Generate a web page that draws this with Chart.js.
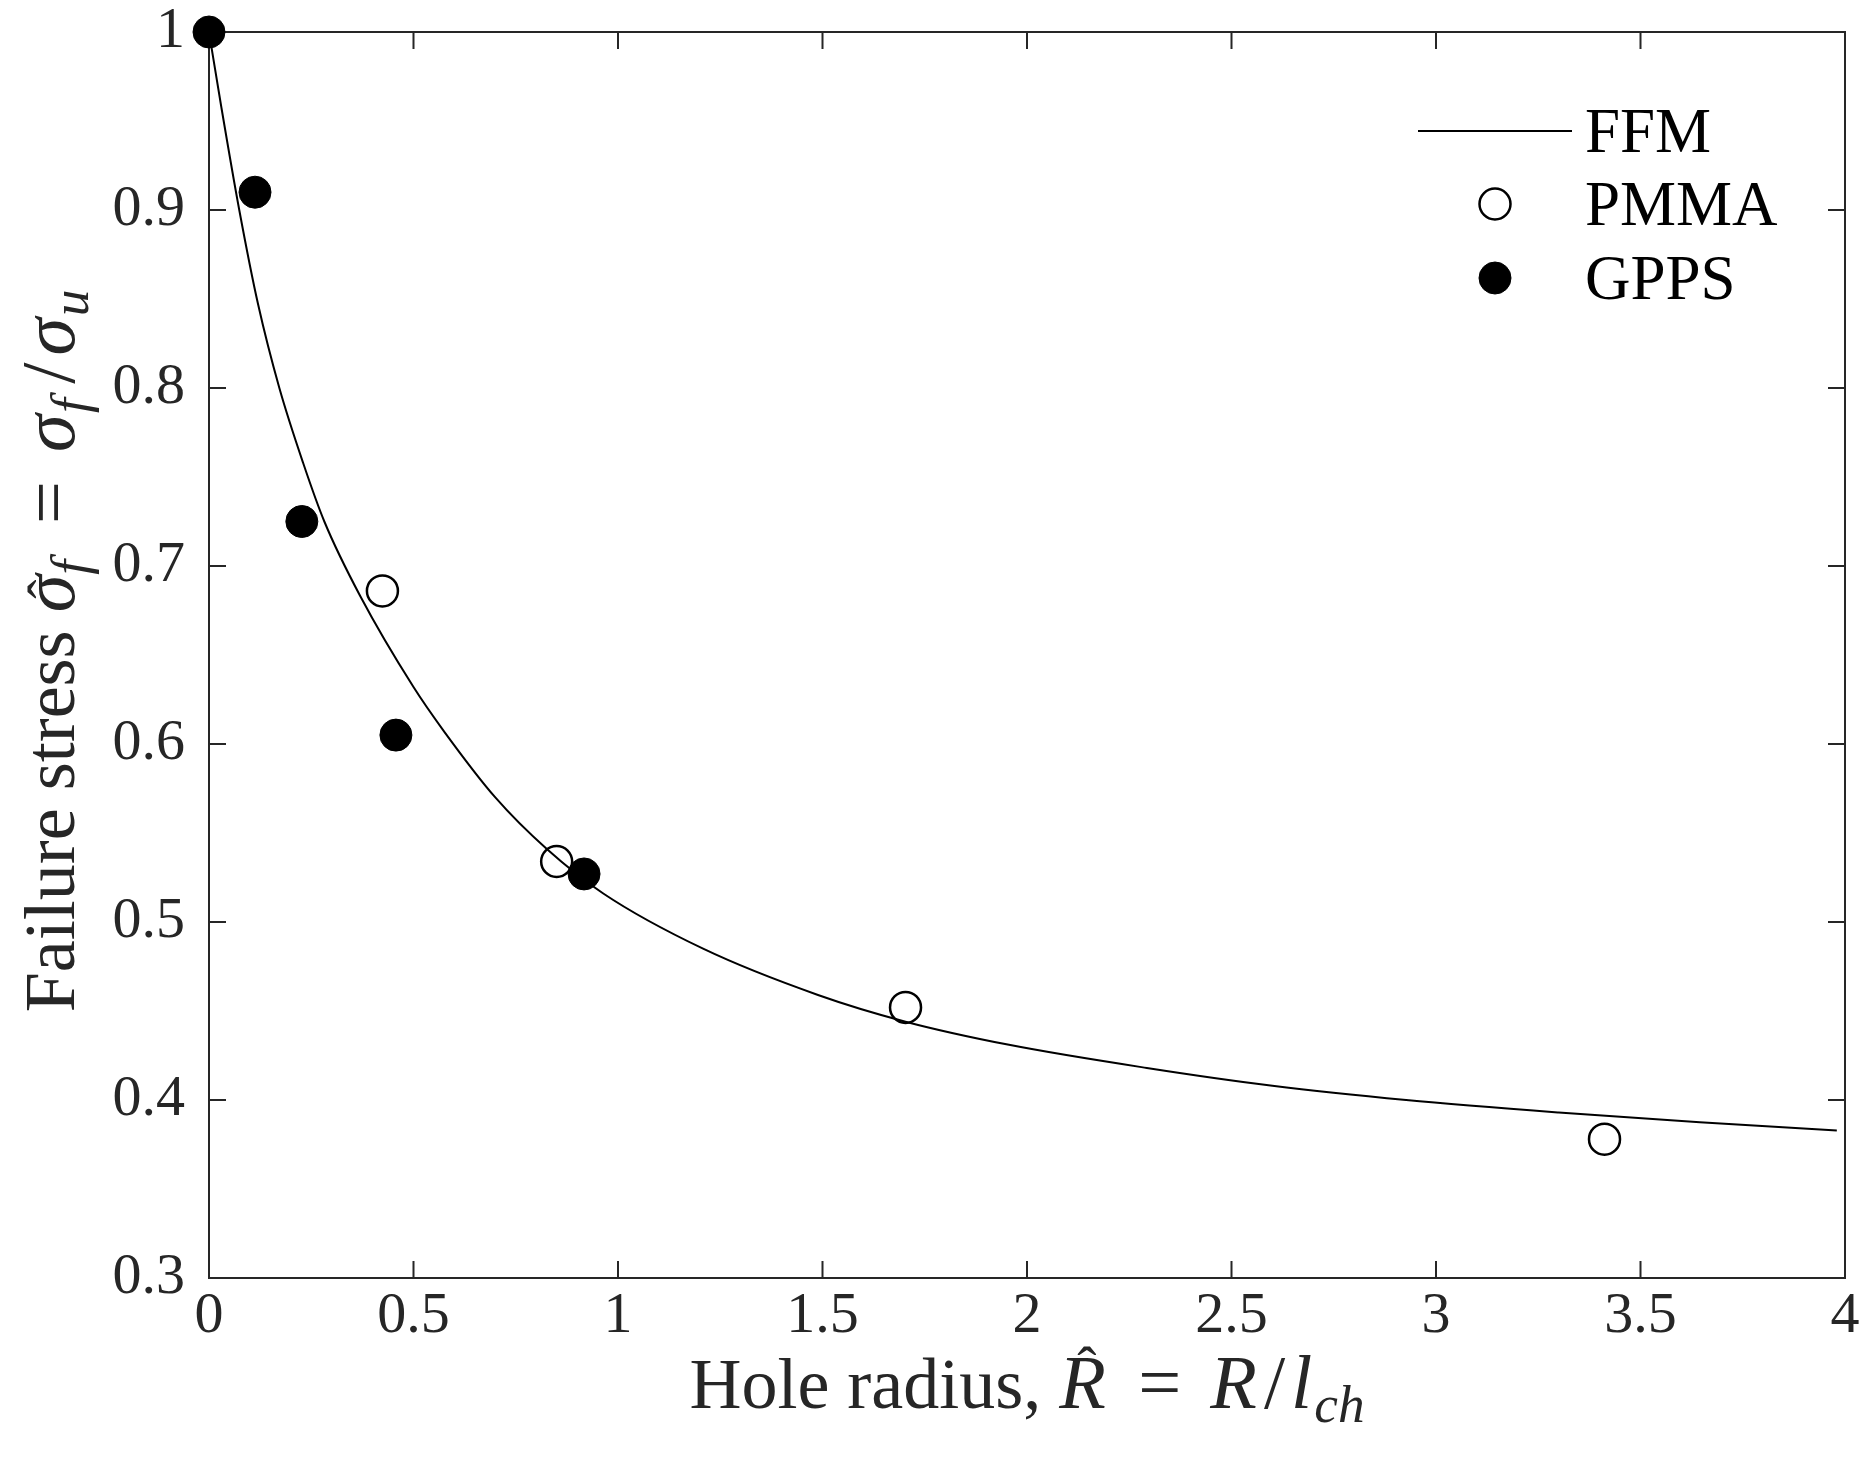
<!DOCTYPE html>
<html>
<head>
<meta charset="utf-8">
<script src="https://cdn.jsdelivr.net/npm/chart.js@4.4.0/dist/chart.umd.min.js"></script>
<style>
html, body { margin: 0; padding: 0; background: #fff; }
#wrap { width: 1865px; height: 1458px; }
</style>
</head>
<body>
<div id="wrap"><canvas id="grafico"></canvas></div>
<script>
// FFM curve
const ffmX = [0, 0.03, 0.074, 0.12, 0.172, 0.23, 0.282, 0.37, 0.5, 0.575, 0.7, 0.826, 0.964, 1.208, 1.489, 1.703, 1.956, 2.293, 2.6, 2.927, 3.3, 3.645, 3.98];
const ffmY = [1.0, 0.958, 0.9, 0.847, 0.8, 0.758, 0.725, 0.683, 0.632, 0.607, 0.570, 0.541, 0.516, 0.485, 0.459, 0.444, 0.431, 0.418, 0.408, 0.400, 0.393, 0.3875, 0.3828];

// test points
const pmmaX = [0.424, 0.850, 1.703, 3.412];
const pmmaY = [0.686, 0.534, 0.452, 0.378];
const gppsX = [0, 0.1125, 0.227, 0.457, 0.917];
const gppsY = [1.0, 0.910, 0.725, 0.605, 0.527];

const seriesNames = ['FFM', 'PMMA', 'GPPS'];

const xTicks = [0, 0.5, 1, 1.5, 2, 2.5, 3, 3.5, 4];
const xTickLabels = ['0', '0.5', '1', '1.5', '2', '2.5', '3', '3.5', '4'];
const yTicks = [0.3, 0.4, 0.5, 0.6, 0.7, 0.8, 0.9, 1];
const yTickLabels = ['0.3', '0.4', '0.5', '0.6', '0.7', '0.8', '0.9', '1'];

const axisColor = '#262626';
const serif = '"Liberation Serif", "Times New Roman", serif';

const toPoints = (xs, ys) => xs.map((x, i) => ({ x: x, y: ys[i] }));

// titles with math bits: m = math (italic, a bit bigger), sub = subscript, hat = circumflex raise, g = gap in em
const yTitle = [
    { t: 'Failure stress ' },
    { t: 'σ', m: 1, hat: 0 },
    { t: 'f', m: 1, sub: 1 },
    { g: 0.5 },
    { t: '=', m: 2 },
    { g: 0.4 },
    { t: 'σ', m: 1 },
    { g: 0.02 },
    { t: 'f', m: 1, sub: 1 },
    { g: 0.2 },
    { t: '/', m: 2 },
    { g: 0.1 },
    { t: 'σ', m: 1 },
    { g: 0.02 },
    { t: 'u', m: 1, sub: 1 }
];
const xTitle = [
    { t: 'Hole radius, ' },
    { t: 'R', m: 1, hat: 0.2 },
    { g: 0.45 },
    { t: '=', m: 2 },
    { g: 0.4 },
    { t: 'R', m: 1 },
    { g: 0.1 },
    { t: '/', m: 2 },
    { g: 0.08 },
    { t: 'l', m: 1 },
    { g: 0.03 },
    { t: 'ch', m: 1, sub: 1 }
];

function partFont(p, size) {
    let s = p.m ? size * 1.06 : size;
    if (p.sub) s = size * 0.74;
    return (p.m === 1 ? 'italic ' : '') + s + 'px ' + serif;
}

function partWidth(ctx, p, size) {
    if (p.g) return p.g * size;
    ctx.font = partFont(p, size);
    return ctx.measureText(p.t).width;
}

function richWidth(ctx, parts, size) {
    return parts.reduce((w, p) => w + partWidth(ctx, p, size), 0);
}

function drawRich(ctx, parts, size, x, y) {
    ctx.textAlign = 'left';
    ctx.textBaseline = 'alphabetic';
    parts.forEach(p => {
        const w = partWidth(ctx, p, size);
        if (p.t) {
            ctx.font = partFont(p, size);
            const dy = p.sub ? size * 0.2 : 0;
            ctx.fillText(p.t, x, y + dy);
        }
        if (p.hat !== undefined) {
            ctx.font = (size * 0.8) + 'px ' + serif;
            ctx.textAlign = 'center';
            ctx.fillText('ˆ', x + w / 2 + size * 0.06, y - size * (0.1 + p.hat));
            ctx.textAlign = 'left';
        }
        x += w;
    });
}

const framePlugin = {
    id: 'frame',
    beforeDatasetsDraw(chart) {
        const ctx = chart.ctx;
        const a = chart.chartArea;
        const xs = chart.scales.x;
        const ys = chart.scales.y;
        const tl = 17;
        ctx.save();
        ctx.strokeStyle = axisColor;
        ctx.lineWidth = 2;
        ctx.beginPath();
        ctx.moveTo(a.left, a.top);
        ctx.lineTo(a.right, a.top);
        ctx.lineTo(a.right, a.bottom);
        ctx.stroke();
        ctx.beginPath();
        xTicks.forEach(v => {
            const px = xs.getPixelForValue(v);
            ctx.moveTo(px, a.bottom);
            ctx.lineTo(px, a.bottom - tl);
            ctx.moveTo(px, a.top);
            ctx.lineTo(px, a.top + tl);
        });
        yTicks.forEach(v => {
            const py = ys.getPixelForValue(v);
            ctx.moveTo(a.left, py);
            ctx.lineTo(a.left + tl, py);
            ctx.moveTo(a.right, py);
            ctx.lineTo(a.right - tl, py);
        });
        ctx.stroke();
        ctx.restore();
    },
    afterDraw(chart) {
        const ctx = chart.ctx;
        const a = chart.chartArea;
        const size = 72;
        ctx.save();
        ctx.fillStyle = axisColor;

        // x title
        const wx = richWidth(ctx, xTitle, size);
        drawRich(ctx, xTitle, size, (a.left + a.right) / 2 - wx / 2, 1408);

        // y title
        const wy = richWidth(ctx, yTitle, size);
        ctx.translate(74, (a.top + a.bottom) / 2 - 4);
        ctx.rotate(-Math.PI / 2);
        drawRich(ctx, yTitle, size, -wy / 2, 0);
        ctx.restore();

        // legend
        const ds = chart.data.datasets;
        const rows = [131, 204, 278];
        ctx.save();
        ctx.font = '63px ' + serif;
        ctx.textAlign = 'left';
        ctx.textBaseline = 'middle';
        ds.forEach((d, i) => {
            const y = rows[i];
            ctx.strokeStyle = d.borderColor;
            ctx.lineWidth = d.borderWidth;
            if (d.showLine) {
                ctx.beginPath();
                ctx.moveTo(1418, y);
                ctx.lineTo(1572, y);
                ctx.stroke();
            } else {
                ctx.beginPath();
                ctx.arc(1495, y, d.pointRadius, 0, Math.PI * 2);
                if (d.backgroundColor !== 'rgba(0,0,0,0)') {
                    ctx.fillStyle = d.backgroundColor;
                    ctx.fill();
                }
                ctx.stroke();
            }
            ctx.fillStyle = '#000';
            ctx.fillText(d.label, 1585, y + 4);
        });
        ctx.restore();
    }
};

const ctx = document.getElementById('grafico').getContext('2d');

new Chart(ctx, {
    type: 'scatter',
    data: {
        datasets: [
            {
                label: seriesNames[0],
                data: toPoints(ffmX, ffmY),
                showLine: true,
                borderColor: '#000',
                borderWidth: 2,
                pointRadius: 0,
                cubicInterpolationMode: 'monotone',
                fill: false,
                order: 3
            },
            {
                label: seriesNames[1],
                data: toPoints(pmmaX, pmmaY),
                showLine: false,
                borderColor: '#000',
                backgroundColor: 'rgba(0,0,0,0)',
                borderWidth: 2.5,
                pointRadius: 15.5,
                pointHoverRadius: 15.5,
                clip: false,
                order: 2
            },
            {
                label: seriesNames[2],
                data: toPoints(gppsX, gppsY),
                showLine: false,
                borderColor: '#000',
                backgroundColor: '#000',
                borderWidth: 1,
                pointRadius: 16,
                pointHoverRadius: 16,
                clip: false,
                order: 1
            }
        ]
    },
    options: {
        responsive: true,
        maintainAspectRatio: false,
        animation: false,
        devicePixelRatio: 1,
        layout: { padding: { top: 32, right: 20, left: 0, bottom: 0 } },
        plugins: {
            legend: { display: false },
            tooltip: { enabled: false }
        },
        scales: {
            x: {
                type: 'linear',
                min: 0,
                max: 4,
                afterBuildTicks: s => { s.ticks = xTicks.map(v => ({ value: v })); },
                afterFit: s => { s.height = 180; s.paddingLeft = 0; s.paddingRight = 0; },
                ticks: {
                    callback: (v, i) => xTickLabels[i],
                    font: { family: serif, size: 58 },
                    color: axisColor,
                    padding: 4,
                    maxRotation: 0,
                    autoSkip: false
                },
                grid: { display: false, drawTicks: false },
                border: { display: true, color: axisColor, width: 2 }
            },
            y: {
                type: 'linear',
                min: 0.3,
                max: 1,
                afterBuildTicks: s => { s.ticks = yTicks.map(v => ({ value: v })); },
                afterFit: s => { s.width = 209; s.paddingTop = 0; s.paddingBottom = 0; },
                ticks: {
                    callback: (v, i) => yTickLabels[i],
                    font: { family: serif, size: 58 },
                    color: axisColor,
                    padding: 24,
                    autoSkip: false
                },
                grid: { display: false, drawTicks: false },
                border: { display: true, color: axisColor, width: 2 }
            }
        }
    },
    plugins: [framePlugin]
});
</script>
</body>
</html>
